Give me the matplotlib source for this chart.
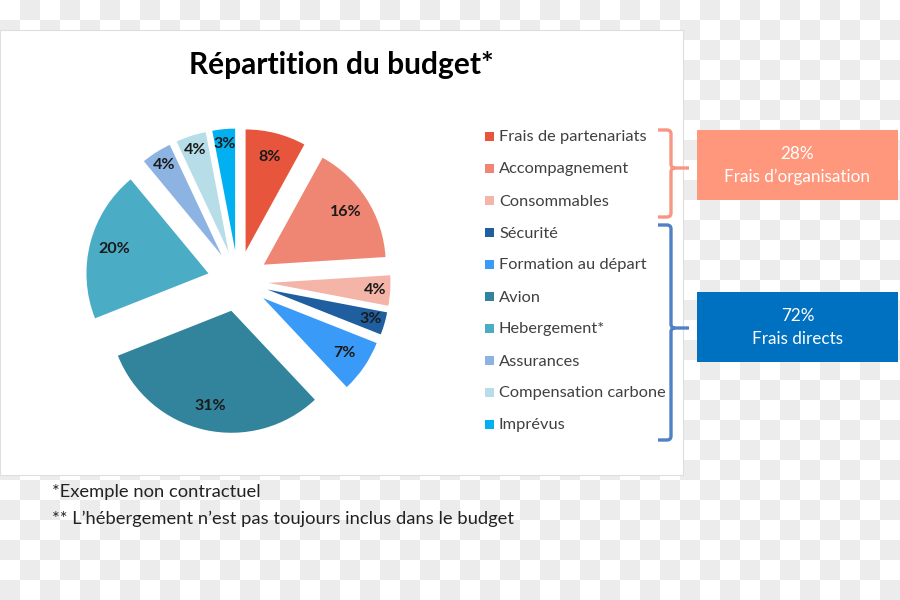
import matplotlib.pyplot as plt
import numpy as np
from matplotlib.colors import ListedColormap
from matplotlib.patches import Rectangle, PathPatch
from matplotlib.path import Path

plt.rcParams['font.family'] = ['Lato', 'DejaVu Sans']

# --- data ---
title = 'Répartition du budget*'
categories = ['Frais de partenariats', 'Accompagnement', 'Consommables', 'Sécurité',
              'Formation au départ', 'Avion', 'Hebergement*', 'Assurances',
              'Compensation carbone', 'Imprévus']
shares = [8, 16, 4, 3, 7, 31, 20, 4, 4, 3]
colors = ['#E8553D', '#EE8673', '#F4B4A7', '#1F5FA0', '#3A9AF8',
          '#31849B', '#4BACC6', '#8DB3E2', '#B7DEE8', '#00B0F0']
group_names = ['Frais d’organisation', 'Frais directs']
group_counts = [3, 7]
group_colors = ['#FF977C', '#0070C0']
brace_colors = ['#F79682', '#4F81C4']
notes = ['*Exemple non contractuel',
         '** L’hébergement n’est pas toujours inclus dans le budget']


def brace(ax, x0, xs, xt, top, bot, tip, color):
    r = 4
    verts = [(x0, top), (xs - r, top), (xs, top), (xs, top + r), (xs, tip - r),
             (xs, tip), (xs + r, tip), (xt, tip),
             (xs + r, tip), (xs, tip), (xs, tip + r), (xs, bot - r),
             (xs, bot), (xs - r, bot), (x0, bot)]
    codes = [Path.MOVETO, Path.LINETO, Path.CURVE3, Path.CURVE3, Path.LINETO,
             Path.CURVE3, Path.CURVE3, Path.LINETO,
             Path.MOVETO, Path.CURVE3, Path.CURVE3, Path.LINETO,
             Path.CURVE3, Path.CURVE3, Path.LINETO]
    ax.add_patch(PathPatch(Path(verts, codes), fill=False, edgecolor=color,
                           linewidth=2.4, capstyle='butt', joinstyle='round'))


def main():
    fig = plt.figure(figsize=(9, 6), dpi=100)

    # --- background in pixel coordinates ---
    bg = fig.add_axes([0, 0, 1, 1])
    bg.set_xlim(0, 900)
    bg.set_ylim(600, 0)
    bg.axis('off')
    checker = np.add.outer(np.arange(30), np.arange(45)) % 2
    bg.imshow(checker, extent=(0, 900, 600, 0), aspect='auto',
              cmap=ListedColormap(['white', '#ececec']), interpolation='nearest')
    bg.add_patch(Rectangle((0, 30), 683, 445, facecolor='white',
                           edgecolor='#dedede', linewidth=0.8))

    bg.text(341, 74, title, ha='center', va='baseline', fontsize=21.5,
            fontweight='bold', color='black')

    # --- legend ---
    row0, step = 136, 32
    for i, (name, c) in enumerate(zip(categories, colors)):
        y = row0 + i * step
        bg.add_patch(Rectangle((485, y - 4.5), 9, 9, facecolor=c, edgecolor='none'))
        bg.text(499, y + 1.5, name, ha='left', va='center', fontsize=11.75,
                color='#404040')

    # --- braces and group boxes ---
    idx = np.cumsum([0] + group_counts)
    brace_spans = [(130, 217), (225, 440)]
    boxes = [(130, 70), (292, 70)]
    for g in range(len(group_names)):
        top, bot = brace_spans[g]
        tip = (row0 + idx[g] * step + row0 + (idx[g + 1] - 1) * step) / 2
        brace(bg, 658, 671, 689, top, bot, tip, brace_colors[g])
        by, bh = boxes[g]
        bg.add_patch(Rectangle((697, by), 201, bh, facecolor=group_colors[g],
                               edgecolor='none'))
        total = sum(shares[idx[g]:idx[g + 1]])
        bg.text(797.5, by + 24, f'{total}%', ha='center', va='center',
                fontsize=12.3, color='white')
        bg.text(797.5, by + 47, group_names[g], ha='center', va='center',
                fontsize=12.3, color='white')

    # --- footnotes ---
    for k, note in enumerate(notes):
        bg.text(52, 492 + 27 * k, note, ha='left', va='center', fontsize=13.2,
                color='#222222')

    # --- pie ---
    cx, cy, unit, half = 238, 281, 122, 1.3
    w, h = 2 * half * unit / 900, 2 * half * unit / 600
    ax = fig.add_axes([cx / 900 - w / 2, 1 - cy / 600 - h / 2, w, h])
    wedges, _ = ax.pie(shares, colors=colors, startangle=90, counterclock=False,
                       explode=[0.25] * len(shares), wedgeprops=dict(linewidth=0))
    for wdg, v in zip(wedges, shares):
        mid = np.deg2rad((wdg.theta1 + wdg.theta2) / 2)
        d = 0.88 if v <= 4 else 0.8
        x0, y0 = wdg.center
        ax.text(x0 + d * np.cos(mid), y0 + d * np.sin(mid), f'{v}%',
                ha='center', va='center', fontsize=11.5, fontweight='bold',
                color='#1a1a1a')
    ax.set_xlim(-half, half)
    ax.set_ylim(-half, half)
    ax.set_aspect('equal')
    ax.axis('off')

    fig.savefig('out.png', dpi=100)


if __name__ == '__main__':
    main()
